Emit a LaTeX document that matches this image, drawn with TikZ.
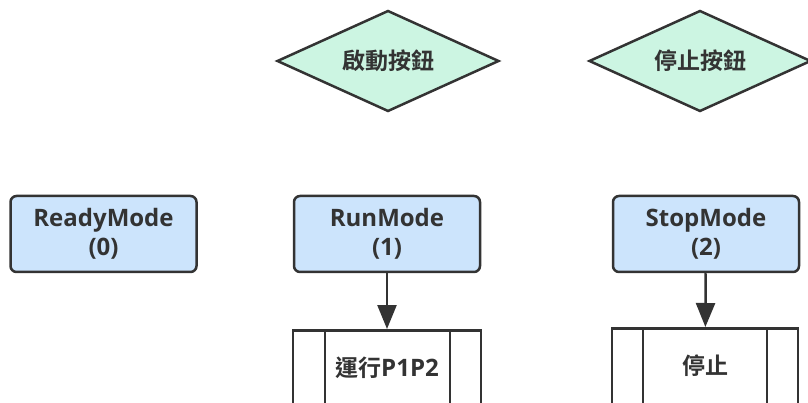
\documentclass[tikz,border=0pt]{standalone}
\usepackage{fontspec}
\setmainfont{Open Sans}[BoldFont={* Bold}]
\newfontfamily\cjk{Noto Sans CJK TC}[BoldFont={* Bold}]
\usetikzlibrary{shapes.geometric,arrows.meta}
\definecolor{mint}{HTML}{CCF5E2}
\definecolor{skyb}{HTML}{CCE4FC}
\definecolor{ink}{HTML}{333333}
\tikzset{
  lbl/.style={font=\fontsize{24}{29}\selectfont\bfseries, text=ink, align=center},
  cl/.style={font=\cjk\fontsize{23}{28}\selectfont\bfseries, text=ink, align=center},
  dia/.style={diamond, draw=ink, line width=2.5pt, fill=mint, aspect=2.2, minimum width=222pt, minimum height=101pt, inner sep=0pt, cl},
  mode/.style={rectangle, rounded corners=6pt, draw=ink, line width=2.5pt, fill=skyb, minimum width=186pt, minimum height=76pt, inner sep=0pt, lbl},
  proc/.style={rectangle, draw=ink, line width=2.5pt, fill=white, minimum height=110pt, inner sep=0pt},
  arr/.style={draw=ink, line width=2.5pt, -{Triangle[length=24pt,width=19pt]}},
}
\begin{document}
\begin{tikzpicture}[x=1pt,y=-1pt]
\useasboundingbox (0,0) rectangle (808,403);
\clip (0,0) rectangle (808,403);
\fill[white] (0,0) rectangle (808,403);
\node[dia] (d1) at (388,61) {啟動按鈕};
\node[dia] (d2) at (700,61) {停止按鈕};
\node[mode] (m0) at (103.5,234) {ReadyMode\\(0)};
\node[mode] (m1) at (387,234) {RunMode\\(1)};
\node[mode] (m2) at (706,234) {StopMode\\(2)};
\node[proc, minimum width=188pt, anchor=north] (p1) at (387,329) {};
\node[proc, minimum width=186pt, anchor=north] (p2) at (705,327) {};
\draw[draw=ink, line width=2.5pt] (325,329) -- (325,440) (450,329) -- (450,440);
\draw[draw=ink, line width=2.5pt] (643,327) -- (643,440) (767,327) -- (767,440);
\node[lbl] (t1) at (387,368) {{\cjk\fontsize{23}{28}\selectfont\bfseries 運行}P1P2};
\node[cl] (t2) at (705,366) {停止};
\draw[arr] (m1) -- (p1);
\draw[arr] (m2) -- (p2);
\end{tikzpicture}
\end{document}
